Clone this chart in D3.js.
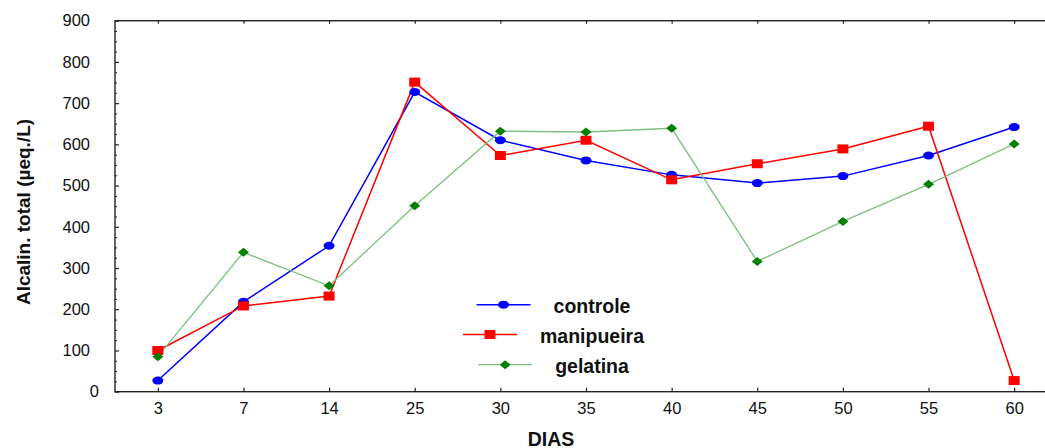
<!DOCTYPE html>
<html>
<head>
<meta charset="utf-8">
<script src="https://cdn.jsdelivr.net/npm/d3@7"></script>
<style>
  body { margin: 0; background: #fff; }
  svg { display: block; font-family: "Liberation Sans", Arial, sans-serif; }
</style>
</head>
<body>
<svg id="chart" width="1045" height="448"></svg>
<script>
// --- data ---
const days = ["3", "7", "14", "25", "30", "35", "40", "45", "50", "55", "60"];
const controle   = [27, 218, 354, 727, 610, 561, 526, 506, 523, 573, 642];
const manipueira = [100, 208, 232, 751, 573, 610, 514, 553, 589, 644, 27];
const gelatina   = [85, 338, 257, 451, 632, 630, 639, 316, 413, 503, 601];
const seriesNames = ["controle", "manipueira", "gelatina"];
const yTicks = [0, 100, 200, 300, 400, 500, 600, 700, 800, 900];

const svg = d3.select("#chart");

// plot frame (right edge falls just outside the picture)
const plotLeft = 115, plotRight = 1057, plotTop = 20.7, plotBottom = 391.7;

const x = d3.scalePoint()
  .domain(days)
  .range([plotLeft, plotRight])
  .padding(0.5);

const y = d3.scaleLinear()
  .domain([0, 900])
  .range([plotBottom, plotTop]);

// frame
svg.append("rect")
  .attr("x", plotLeft).attr("y", plotTop)
  .attr("width", plotRight - plotLeft).attr("height", plotBottom - plotTop)
  .attr("fill", "none")
  .attr("stroke", "#222")
  .attr("stroke-width", 1.4);

// minor y ticks
const minor = d3.range(0, 901, 25).filter(v => v % 100 !== 0);
svg.append("g")
  .attr("transform", `translate(${plotLeft},0)`)
  .call(d3.axisLeft(y).tickValues(minor).tickSize(-2).tickFormat(""))
  .call(g => g.select(".domain").remove())
  .selectAll("line").attr("stroke", "#222");

// major y ticks + labels
const yAxis = svg.append("g")
  .attr("transform", `translate(${plotLeft},0)`)
  .call(d3.axisLeft(y).tickValues(yTicks).tickSize(-4).tickPadding(25))
  .call(g => g.select(".domain").remove());
yAxis.selectAll("line").attr("stroke", "#222").attr("stroke-width", 1.2);
yAxis.selectAll("text")
  .attr("font-size", "16.5px")
  .attr("fill", "#111")
  .attr("font-family", "Liberation Sans, Arial, sans-serif")
  .attr("x", d => d === 0 ? -16 : -25);

// x axis (bottom) ticks pointing up
const xAxis = svg.append("g")
  .attr("transform", `translate(0,${plotBottom})`)
  .call(d3.axisBottom(x).tickSize(-4).tickPadding(11))
  .call(g => g.select(".domain").remove());
xAxis.selectAll("line").attr("stroke", "#222").attr("stroke-width", 1.2);
xAxis.selectAll("text")
  .attr("font-size", "16.5px")
  .attr("fill", "#111")
  .attr("font-family", "Liberation Sans, Arial, sans-serif");

// top ticks pointing down
svg.append("g")
  .attr("transform", `translate(0,${plotTop})`)
  .call(d3.axisTop(x).tickSize(-3).tickFormat(""))
  .call(g => g.select(".domain").remove())
  .selectAll("line").attr("stroke", "#222").attr("stroke-width", 1.2);

// axis titles
svg.append("text")
  .attr("transform", "translate(30,212) rotate(-90)")
  .attr("text-anchor", "middle")
  .attr("font-size", "19px")
  .attr("font-weight", "bold")
  .attr("fill", "#111")
  .text("Alcalin. total (µeq./L)");

svg.append("text")
  .attr("x", 551)
  .attr("y", 445.5)
  .attr("text-anchor", "middle")
  .attr("font-size", "19.5px")
  .attr("font-weight", "bold")
  .attr("fill", "#111")
  .text("DIAS");

// marker shapes (slightly squashed vertically, as in the reference)
const circlePath = "M-5.5,0A5.5,4 0 1,0 5.5,0A5.5,4 0 1,0 -5.5,0Z";
const squarePath = "M-5.5,-4.5H5.5V4.5H-5.5Z";
const diamondPath = "M-5.5,0L0,-4.5L5.5,0L0,4.5Z";

const series = [
  { name: seriesNames[0], values: controle,   line: "#0000ff", fill: "#0000ff", width: 1.5, marker: circlePath },
  { name: seriesNames[1], values: manipueira, line: "#ff0000", fill: "#ff0000", width: 1.5, marker: squarePath },
  { name: seriesNames[2], values: gelatina,   line: "#7fbf7f", fill: "#008000", width: 1.3, marker: diamondPath }
];

const line = d3.line()
  .x((d, i) => x(days[i]))
  .y(d => y(d));

series.forEach(s => {
  svg.append("path")
    .datum(s.values)
    .attr("d", line)
    .attr("fill", "none")
    .attr("stroke", s.line)
    .attr("stroke-width", s.width);
});

series.forEach(s => {
  svg.selectAll(null)
    .data(s.values)
    .enter()
    .append("path")
    .attr("d", s.marker)
    .attr("transform", (d, i) => `translate(${x(days[i])},${y(d)})`)
    .attr("fill", s.fill);
});

// legend
const legendY = [304.7, 334.5, 364.7];
const legendCenter = 592;
series.forEach((s, i) => {
  const g = svg.append("g");
  const t = g.append("text")
    .attr("x", legendCenter)
    .attr("y", legendY[i] + 8.5)
    .attr("text-anchor", "middle")
    .attr("font-size", "19.5px")
    .attr("font-weight", "bold")
    .attr("fill", "#111")
    .text(s.name);
  const w = t.node().getComputedTextLength();
  const x1 = legendCenter - w / 2 - 23;
  g.append("line")
    .attr("x1", x1 - 54).attr("x2", x1)
    .attr("y1", legendY[i]).attr("y2", legendY[i])
    .attr("stroke", s.line)
    .attr("stroke-width", s.width);
  g.append("path")
    .attr("d", s.marker)
    .attr("transform", `translate(${x1 - 27},${legendY[i]})`)
    .attr("fill", s.fill);
});
</script>
</body>
</html>
